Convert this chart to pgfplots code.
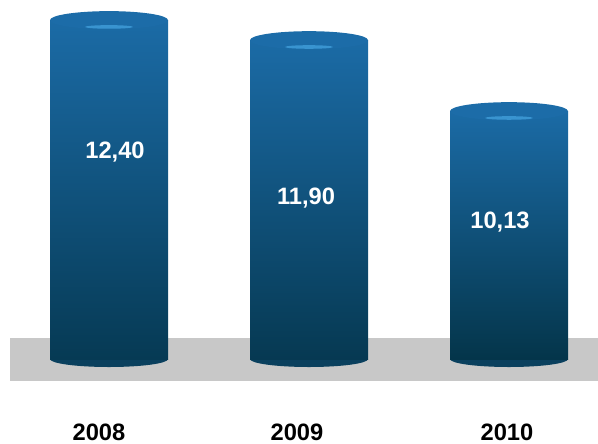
\documentclass[border=0pt]{standalone}
\usepackage{pgfplots}
\pgfplotsset{compat=1.18}
\usepackage{pgfplotstable}
\usepackage{fontspec}
\setmainfont{Liberation Sans}
\definecolor{cylT}{RGB}{27,107,166}
\definecolor{cylB}{RGB}{10,64,94}
\definecolor{cylB1}{RGB}{6,58,84}
\definecolor{cylB2}{RGB}{6,57,82}
\definecolor{cylB3}{RGB}{4,53,74}
\definecolor{cylTop}{RGB}{28,108,168}
\definecolor{cylHL}{RGB}{70,165,225}
\definecolor{floorC}{HTML}{C8C8C8}
\pgfdeclareplotmark{cyltop}{\pgfpathellipse{\pgfpointorigin}{\pgfpoint{59pt}{0pt}}{\pgfpoint{0pt}{9pt}}\pgfusepathqfill}
\pgfdeclareplotmark{cylhl}{\pgfpathellipse{\pgfpoint{0pt}{-6.8pt}}{\pgfpoint{24pt}{0pt}}{\pgfpoint{0pt}{1.8pt}}\pgfusepathqfill}
\pgfdeclareplotmark{cylbot}{\pgfpathellipse{\pgfpointorigin}{\pgfpoint{59pt}{0pt}}{\pgfpoint{0pt}{8pt}}\pgfusepathqfill}
\pgfplotstableread{
x v
0 12.40
1 11.90
2 10.13
}\data
\begin{document}
\begin{tikzpicture}
\begin{axis}[
  scale only axis, width=598pt, height=359pt,
  xmin=-0.545, xmax=2.445, ymin=3.95, ymax=12.902,
  hide axis, clip mode=individual,
]
\fill[floorC] (axis cs:-0.495,3.401) rectangle (axis cs:2.445,4.473);
\path (axis cs:-0.545,1.880) rectangle (axis cs:2.445,12.902);
\addplot[only marks, mark=cylbot, color=cylB] table[x=x, y expr=3.95] {\data};
\addplot[ybar, bar width=118pt, draw=none, top color=cylT, bottom color=cylB1] coordinates {(0,12.40)};
\addplot[ybar, bar width=118pt, draw=none, top color=cylT, bottom color=cylB2] coordinates {(1,11.90)};
\addplot[ybar, bar width=118pt, draw=none, top color=cylT, bottom color=cylB3] coordinates {(2,10.13)};
\addplot[only marks, mark=cyltop, color=cylTop] table[x=x, y=v] {\data};
\addplot[only marks, mark=cylhl, color=cylHL, opacity=0.7] table[x=x, y=v] {\data};
\node[white, font=\fontsize{23.7}{28}\selectfont\bfseries] at (axis cs:0.03,9.11) {12,40};
\node[white, font=\fontsize{23.7}{28}\selectfont\bfseries] at (axis cs:0.985,7.96) {11,90};
\node[white, font=\fontsize{23.7}{28}\selectfont\bfseries] at (axis cs:1.955,7.37) {10,13};
\node[black, font=\fontsize{23.7}{28}\selectfont\bfseries] at (axis cs:-0.05,2.13) {2008};
\node[black, font=\fontsize{23.7}{28}\selectfont\bfseries] at (axis cs:0.94,2.13) {2009};
\node[black, font=\fontsize{23.7}{28}\selectfont\bfseries] at (axis cs:1.99,2.13) {2010};
\end{axis}
\end{tikzpicture}
\end{document}
